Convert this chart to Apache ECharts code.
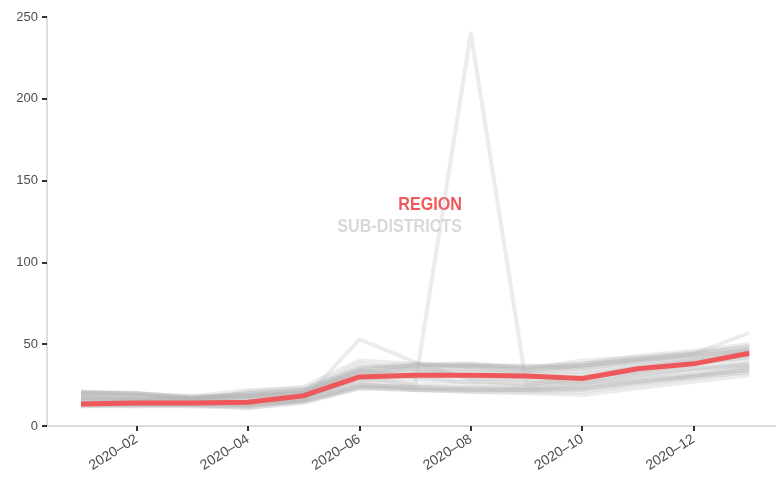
<!DOCTYPE html>
<html>
<head>
<meta charset="utf-8">
<script src="https://cdn.jsdelivr.net/npm/echarts@6/dist/echarts.min.js"></script>
<style>
  html, body { margin: 0; padding: 0; background: #fff; }
  #chart { width: 776px; height: 479px; }
</style>
</head>
<body>
<div id="chart"></div>
<script>
let months = ['2020-01', '2020-02', '2020-03', '2020-04', '2020-05', '2020-06', '2020-07',
  '2020-08', '2020-09', '2020-10', '2020-11', '2020-12', '2021-01'];
let labelMonths = [1, 3, 5, 7, 9, 11];

let region = [13.5, 14, 14, 14.5, 18.5, 30, 31, 31, 30.5, 29, 35, 38, 44.5];

// sub-district lines
let subDistricts = [
  [17, 16, 15, 15, 17, 30, 25, 240, 25, 30, 36, 40, 43],
  [15, 14, 14, 13, 16, 53, 39, 28, 25, 27, 33, 38, 42],
  [21, 20, 17, 20, 22, 36, 38, 38, 35, 40, 42, 45, 48],
  [20, 19, 18, 22, 23, 35, 37, 37, 36, 38, 43, 46, 50],
  [18, 17, 16, 18, 20, 33, 34, 35, 33, 36, 40, 43, 46],
  [16, 15, 15, 17, 19, 31, 32, 33, 32, 33, 37, 40, 45],
  [14, 14, 14, 15, 18, 28, 28, 29, 28, 30, 33, 37, 40],
  [13, 13, 13, 12, 16, 25, 24, 24, 23, 25, 29, 32, 36],
  [12, 13, 13, 11, 15, 24, 23, 22, 22, 23, 27, 31, 34],
  [19, 18, 17, 16, 18, 26, 22, 21, 20, 19, 23, 27, 31],
  [15, 16, 17, 19, 22, 38, 35, 30, 28, 26, 30, 34, 38],
  [17, 16, 16, 21, 24, 40, 38, 36, 34, 37, 41, 44, 57],
  [20, 20, 18, 19, 21, 34, 30, 26, 24, 26, 31, 35, 38],
  [13, 12, 13, 14, 17, 27, 25, 27, 26, 28, 32, 35, 37],
  [18, 16, 15, 13, 15, 23, 22, 21, 21, 21, 25, 29, 33],
  [21, 19, 16, 18, 21, 32, 36, 37, 37, 35, 39, 41, 47],
  [21, 20, 18, 19, 21, 35, 37, 38, 36, 38, 41, 44, 47],
  [20, 20, 17, 18, 20, 34, 37, 37, 35, 37, 40, 43, 46],
  [12, 12, 12, 12, 15, 24, 23, 23, 22, 22, 26, 30, 33],
  [13, 13, 12, 11, 14, 23, 22, 22, 22, 23, 27, 30, 35],
  [14, 14, 13, 13, 16, 25, 24, 23, 23, 24, 28, 31, 36],
  [19, 18, 17, 20, 22, 33, 35, 36, 34, 37, 41, 44, 49],
  [16, 15, 14, 16, 18, 29, 30, 31, 30, 32, 36, 39, 42],
  [17, 17, 16, 18, 20, 32, 33, 34, 32, 35, 39, 42, 45]
];

let chart = echarts.init(document.getElementById('chart'));

let toPoints = function (vals) {
  return months.map(function (m, i) { return [i, vals[i]]; });
};

let series = subDistricts.map(function (vals) {
  return {
    name: 'SUB-DISTRICTS',
    type: 'line',
    data: toPoints(vals),
    showSymbol: false,
    silent: true,
    lineStyle: { color: '#b5b5b5', width: 4, opacity: 0.25, join: 'round' },
    z: 2
  };
});

series.push({
  name: 'REGION',
  type: 'line',
  data: toPoints(region),
  showSymbol: false,
  lineStyle: { color: '#ef585b', width: 5, join: 'round' },
  z: 5
});

let labelFont = 'bold 19px "Liberation Sans", Arial, sans-serif';

let option = {
  animation: false,
  grid: { left: 47, right: 0, top: 17, bottom: 53 },
  xAxis: {
    type: 'value',
    min: -0.61,
    max: 12.48,
    axisLine: { show: true, onZero: false, lineStyle: { color: '#dcdcdc', width: 2 } },
    axisTick: { show: true, customValues: labelMonths, length: 5, lineStyle: { color: '#333', width: 2 } },
    axisLabel: {
      customValues: labelMonths,
      rotate: 32,
      margin: 12,
      color: '#4d4d4d',
      fontSize: 14,
      fontFamily: 'Liberation Sans',
      formatter: function (v) { return months[Math.round(v)].replace('-', '\u2013'); }
    },
    splitLine: { show: false }
  },
  yAxis: {
    type: 'value',
    min: 0,
    max: 250,
    interval: 50,
    axisLine: { show: true, onZero: false, lineStyle: { color: '#dcdcdc', width: 2 } },
    axisTick: { show: true, length: 5, lineStyle: { color: '#333', width: 2 } },
    axisLabel: { color: '#4d4d4d', fontSize: 13, margin: 9, fontFamily: 'Liberation Sans' },
    splitLine: { show: false }
  },
  graphic: [
    {
      type: 'text',
      x: 462,
      y: 205,
      scaleX: 0.85,
      style: {
        text: 'REGION',
        fill: '#ef585b',
        font: labelFont,
        align: 'right',
        verticalAlign: 'middle'
      }
    },
    {
      type: 'text',
      x: 462,
      y: 227,
      scaleX: 0.85,
      style: {
        text: 'SUB-DISTRICTS',
        fill: '#d9d9d9',
        font: labelFont,
        align: 'right',
        verticalAlign: 'middle'
      }
    }
  ],
  series: series
};

chart.setOption(option);
</script>
</body>
</html>
